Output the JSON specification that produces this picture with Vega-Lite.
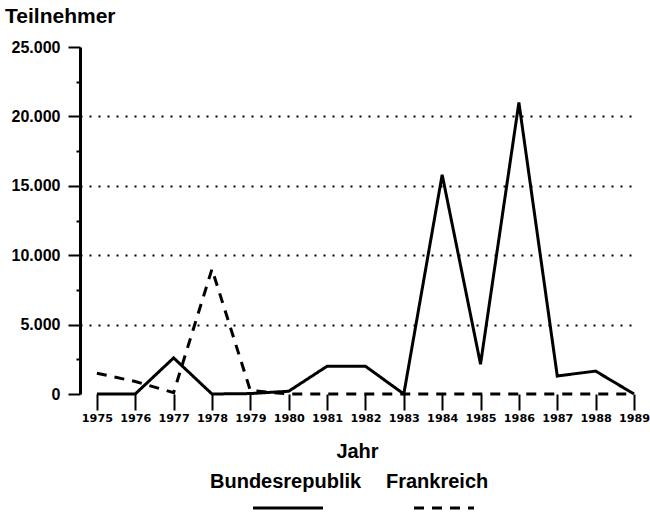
{
  "$schema": "https://vega.github.io/schema/vega-lite/v6.json",
  "width": 554,
  "height": 347,
  "padding": {"left": 5, "top": 6, "right": 0, "bottom": 0},
  "background": "white",
  "title": {"text": "Teilnehmer", "anchor": "start", "frame": "bounds", "font": "Liberation Sans", "fontSize": 21, "fontWeight": "bold", "color": "black", "offset": 12, "dx": -6},
  "data": {"values": [
    {"Jahr": 1975, "Land": "Bundesrepublik", "Teilnehmer": 0},
    {"Jahr": 1976, "Land": "Bundesrepublik", "Teilnehmer": 0},
    {"Jahr": 1977, "Land": "Bundesrepublik", "Teilnehmer": 2600},
    {"Jahr": 1978, "Land": "Bundesrepublik", "Teilnehmer": 0},
    {"Jahr": 1979, "Land": "Bundesrepublik", "Teilnehmer": 30},
    {"Jahr": 1980, "Land": "Bundesrepublik", "Teilnehmer": 200},
    {"Jahr": 1981, "Land": "Bundesrepublik", "Teilnehmer": 2000},
    {"Jahr": 1982, "Land": "Bundesrepublik", "Teilnehmer": 2000},
    {"Jahr": 1983, "Land": "Bundesrepublik", "Teilnehmer": 0},
    {"Jahr": 1984, "Land": "Bundesrepublik", "Teilnehmer": 15800},
    {"Jahr": 1985, "Land": "Bundesrepublik", "Teilnehmer": 2150},
    {"Jahr": 1986, "Land": "Bundesrepublik", "Teilnehmer": 21000},
    {"Jahr": 1987, "Land": "Bundesrepublik", "Teilnehmer": 1300},
    {"Jahr": 1988, "Land": "Bundesrepublik", "Teilnehmer": 1650},
    {"Jahr": 1989, "Land": "Bundesrepublik", "Teilnehmer": 0},
    {"Jahr": 1975, "Land": "Frankreich", "Teilnehmer": 1500},
    {"Jahr": 1976, "Land": "Frankreich", "Teilnehmer": 900},
    {"Jahr": 1977, "Land": "Frankreich", "Teilnehmer": 100},
    {"Jahr": 1978, "Land": "Frankreich", "Teilnehmer": 9000},
    {"Jahr": 1979, "Land": "Frankreich", "Teilnehmer": 250},
    {"Jahr": 1980, "Land": "Frankreich", "Teilnehmer": 0},
    {"Jahr": 1981, "Land": "Frankreich", "Teilnehmer": 0},
    {"Jahr": 1982, "Land": "Frankreich", "Teilnehmer": 0},
    {"Jahr": 1983, "Land": "Frankreich", "Teilnehmer": 0},
    {"Jahr": 1984, "Land": "Frankreich", "Teilnehmer": 0},
    {"Jahr": 1985, "Land": "Frankreich", "Teilnehmer": 0},
    {"Jahr": 1986, "Land": "Frankreich", "Teilnehmer": 0},
    {"Jahr": 1987, "Land": "Frankreich", "Teilnehmer": 0},
    {"Jahr": 1988, "Land": "Frankreich", "Teilnehmer": 0},
    {"Jahr": 1989, "Land": "Frankreich", "Teilnehmer": 0}
  ]},
  "mark": {"type": "line", "strokeWidth": 3, "strokeCap": "butt", "strokeJoin": "miter"},
  "encoding": {
    "x": {
      "field": "Jahr", "type": "quantitative",
      "scale": {"domain": [1974.56, 1989], "nice": false, "zero": false},
      "axis": {
        "values": [1975,1976,1977,1978,1979,1980,1981,1982,1983,1984,1985,1986,1987,1988,1989],
        "format": "d", "domain": false, "grid": false,
        "tickSize": 16, "tickWidth": 2, "tickColor": "black",
        "labelFont": "DejaVu Sans", "labelFontSize": 11.2, "labelFontWeight": "bold", "labelColor": "black",
        "labelPadding": 2, "labelFlush": false, "labelOverlap": false,
        "title": "Jahr", "titleFont": "Liberation Sans", "titleFontSize": 20, "titleFontWeight": "bold", "titleColor": "black", "titlePadding": 18
      }
    },
    "y": {
      "field": "Teilnehmer", "type": "quantitative",
      "scale": {"domain": [0, 25000], "nice": false},
      "axis": {
        "values": [0, 2500, 5000, 7500, 10000, 12500, 15000, 17500, 20000, 22500, 25000],
        "labelExpr": "datum.value % 5000 === 0 ? replace(format(datum.value, ','), ',', '.') : ''",
        "title": null,
        "domainColor": "black", "domainWidth": 3,
        "tickColor": "black", "tickWidth": 2,
        "tickSize": {"condition": {"test": "datum.value % 5000 === 0", "value": 12}, "value": 4},
        "grid": true, "gridColor": "black", "gridWidth": 2, "gridDash": [2, 7],
        "gridOpacity": {"condition": {"test": "datum.value % 5000 === 0 && datum.value > 0 && datum.value < 25000", "value": 1}, "value": 0},
        "labelFont": "Liberation Sans", "labelFontSize": 16, "labelFontWeight": "bold", "labelColor": "black", "labelPadding": 8
      }
    },
    "color": {"field": "Land", "type": "nominal", "scale": {"range": ["black", "black"]}, "legend": {"title": null}},
    "strokeDash": {
      "field": "Land", "type": "nominal", "scale": {"range": [[1, 0], [10, 8]]},
      "legend": {
        "title": null,
        "encode": {"symbols": {"update": {"shape": {"signal": "datum.value === 'Frankreich' ? 'M40,26H100' : 'M55,26H125'"}}}}
      }
    }
  },
  "config": {
    "view": {"stroke": null},
    "legend": {
      "orient": "none", "direction": "horizontal", "legendX": 108, "legendY": 425, "padding": 0,
      "labelFont": "Liberation Sans", "labelFontSize": 20, "labelFontWeight": "bold", "labelColor": "black", "labelOffset": 2,
      "symbolStrokeWidth": 3, "symbolSize": 4, "symbolStrokeColor": "black", "symbolFillColor": "transparent",
      "columnPadding": 2
    }
  }
}
